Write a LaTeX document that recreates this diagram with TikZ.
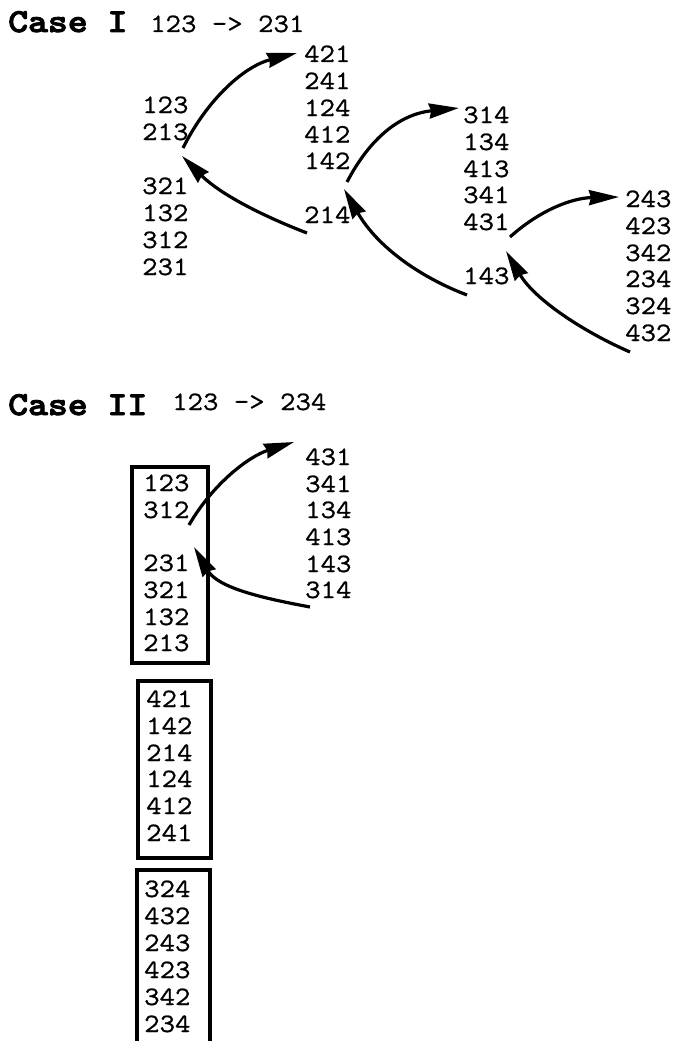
\documentclass[tikz,border=0pt]{standalone}
\usepackage{fontspec}
\newfontfamily\permfont{Latin Modern Mono}[FakeStretch=1.13, FakeBold=0.8]
\newfontfamily\permbold{lmmonolt10-bold.otf}[FakeStretch=1.13, FakeBold=2.8]
\usetikzlibrary{arrows.meta}
\newcommand\numsize{\permfont\fontsize{26.5}{27}\selectfont}
\newcommand\headsize{\permbold\fontsize{33.5}{36}\selectfont}
\begin{document}
\begin{tikzpicture}[x=1pt,y=-1pt,
  num/.style={anchor=base west, inner sep=0pt, font=\numsize},
  head/.style={anchor=base west, inner sep=0pt, font=\headsize},
  link/.style={line width=3.2pt, -{Stealth[length=30pt,width=15pt,inset=2pt]}},
  frame/.style={line width=3.2pt}]
\fill[white] (0,0) rectangle (674,1041);
\useasboundingbox (0,0) rectangle (674,1041);

% ---------- Case I ----------
\node[head] (h1) at (8,32) {Case I};
\node[num] (h1r) at (150,32) {123 -> 231};

\foreach \t/\y [count=\i] in {123/113,213/140,321/194,132/221,312/248,231/275}
  \node[num] (a\i) at (142,\y) {\t};
\foreach \t/\y [count=\i] in {421/62,241/89,124/116,412/142.5,142/169,214/223}
  \node[num] (b\i) at (304,\y) {\t};
\foreach \t/\y [count=\i] in {314/123,134/150,413/177,341/203,431/230,143/284}
  \node[num] (c\i) at (463,\y) {\t};
\foreach \t/\y [count=\i] in {243/207,423/234,342/261,234/287,324/314,432/341}
  \node[num] (d\i) at (625,\y) {\t};

\coordinate (ab-out) at (183,148);
\coordinate (ab-in)  at (297,53);
\coordinate (ba-out) at (307,233);
\coordinate (ba-in)  at (182,156);
\coordinate (bc-out) at (347,182);
\coordinate (bc-in)  at (459,108);
\coordinate (cb-out) at (467,295);
\coordinate (cb-in)  at (344,189);
\coordinate (cd-out) at (510,237);
\coordinate (cd-in)  at (619,197);
\coordinate (dc-out) at (630,352);
\coordinate (dc-in)  at (506,251);

\draw[link] (ab-out) .. controls (208,98) and (245,66) .. (ab-in);
\draw[link] (ba-out) .. controls (268,218) and (222,196) .. (ba-in);
\draw[link] (bc-out) .. controls (370,138) and (400,114) .. (bc-in);
\draw[link] (cb-out) .. controls (422,278) and (378,248) .. (cb-in);
\draw[link] (cd-out) .. controls (540,210) and (572,198) .. (cd-in);
\draw[link] (dc-out) .. controls (584,332) and (535,300) .. (dc-in);

% ---------- Case II ----------
\node[head] (h2) at (8,415) {Case II};
\node[num] (h2r) at (172,410) {123 -> 234};

\foreach \t/\y [count=\i] in {123/491,312/518,231/571,321/598,132/625,213/651}
  \node[num] (e\i) at (143,\y) {\t};
\foreach \t/\y [count=\i] in {431/465,341/492,134/518,413/545,143/572,314/598}
  \node[num] (f\i) at (305,\y) {\t};
\foreach \t/\y [count=\i] in {421/707,142/734,214/761,124/787,412/814,241/841}
  \node[num] (g\i) at (146,\y) {\t};
\foreach \t/\y [count=\i] in {324/897,432/924,243/951,423/978,342/1005,234/1032}
  \node[num] (k\i) at (144,\y) {\t};

\draw[frame] (132,467) rectangle (208,663);
\draw[frame] (138,681) rectangle (211,858);
\draw[frame] (137,1041) -- (137,870) -- (210,870) -- (210,1041);

\coordinate (ef-out) at (189,525);
\coordinate (ef-in)  at (294,442);
\coordinate (fe-out) at (310,607);
\coordinate (fe-in)  at (194,547);

\draw[link] (ef-out) .. controls (214,482) and (250,456) .. (ef-in);
\draw[link] (fe-out) .. controls (262,598) and (218,588) .. (fe-in);
\end{tikzpicture}
\end{document}
